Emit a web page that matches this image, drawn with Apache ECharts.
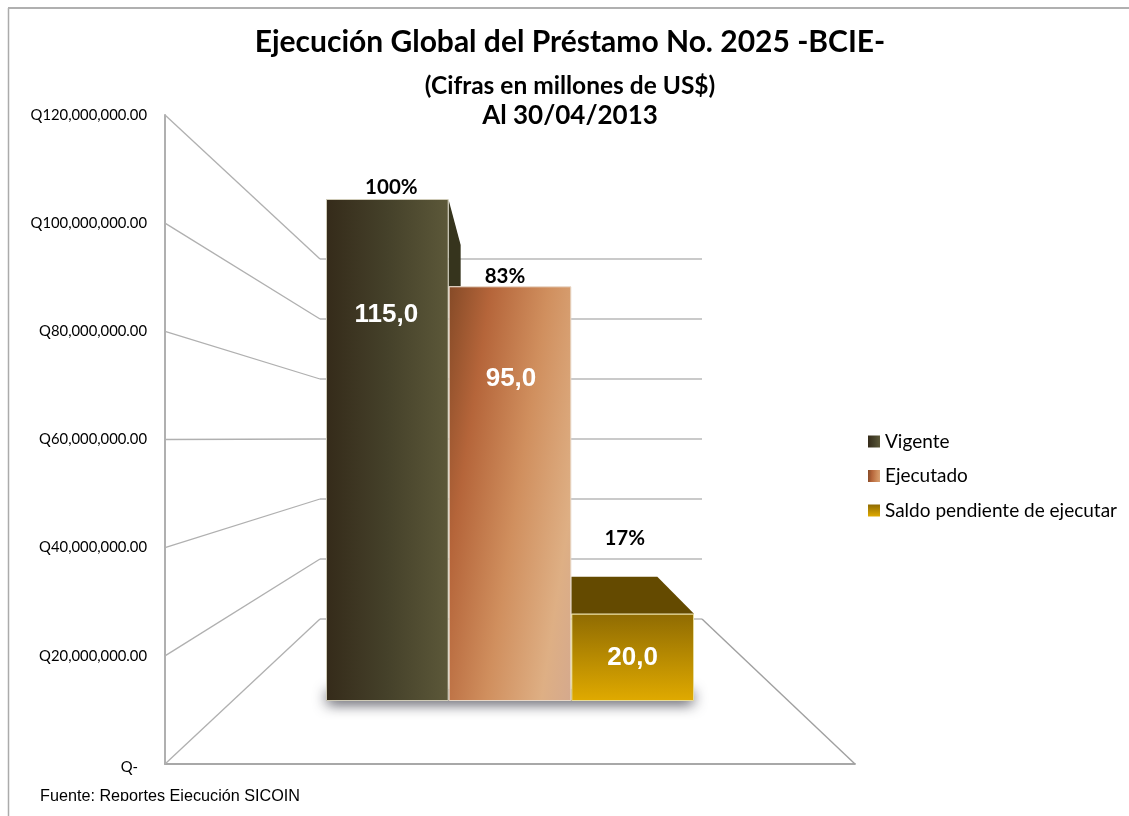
<!DOCTYPE html>
<html><head><meta charset="utf-8">
<style>html,body{margin:0;padding:0;background:#fff}#c{width:1129px;height:816px}</style>
<script src="https://cdn.jsdelivr.net/npm/echarts@6/dist/echarts.min.js"></script>
</head><body><div id="c"></div>
<script>
const categories = ['Vigente','Ejecutado','Saldo pendiente de ejecutar'];
const values = [115.0, 95.0, 20.0];
const percents = ['100%','83%','17%'];
const axisTicks = [0,20000000,40000000,60000000,80000000,100000000,120000000];
const axisLabels = ['Q-','Q20,000,000.00','Q40,000,000.00','Q60,000,000.00','Q80,000,000.00','Q100,000,000.00','Q120,000,000.00'];
const titleLines = ['Ejecución Global del Préstamo No. 2025 -BCIE-','(Cifras en millones de US$)','Al 30/04/2013'];
const sourceNote = 'Fuente: Reportes Ejecución SICOIN';

const CAL = 'Lato', ARI = '"Liberation Sans"', LINE = '#b0b0b0';
const chart = echarts.init(document.getElementById('c'));

const fills = [
  {type:'linear',x:0,y:0,x2:1,y2:0,colorStops:[{offset:0,color:'#352b1a'},{offset:.5,color:'#45412a'},{offset:1,color:'#5c5839'}]},
  {type:'linear',x:0,y:0,x2:2,y2:.09,colorStops:[{offset:0,color:'#854a27'},{offset:.17,color:'#b5653a'},{offset:.4,color:'#d08f5e'},{offset:.62,color:'#deaf84'},{offset:.76,color:'#d3a88f'}]},
  {type:'linear',x:0,y:0,x2:0,y2:1,colorStops:[{offset:0,color:'#8f6b02'},{offset:1,color:'#e0aa00'}]}
];
const labelOffsets = [[-1,-135],[1,-115],[0,0]];
const pctOffsets = [[4,1],[-5,3],[-8,-63]];
const borders = ['#cfcbb8','#e8d8c8','#e9dc98'];

const barSeries = categories.map((name,i)=>({
  name, type:'bar', stack:'s', xAxisIndex:1, yAxisIndex:1, barWidth:'100%', z:4,
  data: categories.map((_,j)=> j===i ? values[i] : null),
  itemStyle:{color:fills[i], borderColor:borders[i], borderWidth:1},
  label:{show:true, position:'inside', offset:labelOffsets[i], formatter:p=>p.value.toFixed(1).replace('.',','),
    color:'#fff', fontFamily:ARI, fontWeight:'bold', fontSize:26}
}));

chart.setOption({
  animation:false,
  backgroundColor:'#fff',
  title: titleLines.map((t,i)=>({
    text:t, left:565, top:[22,69,98][i], textAlign:'center',
    textStyle:{fontFamily:CAL, fontWeight:'bold', color:'#000', fontSize:[30,24.5,26][i]}
  })),
  legend:{orient:'vertical', left:863, top:427, itemWidth:12, itemHeight:12, itemGap:15.5, icon:'rect',
    data:categories, selectedMode:false, textStyle:{fontFamily:CAL, fontSize:19, color:'#000', padding:[0,0,0,0]}, itemStyle:{borderWidth:0}},
  grid:[
    {left:165, top:115, width:690, height:649},
    {left:326, top:199, width:368, height:502},
    {left:320, top:259, width:382, height:360}
  ],
  xAxis:[
    {gridIndex:0, type:'value', min:0, max:1, axisLine:{show:true,lineStyle:{color:'#a8a8a8',width:1.8}}, axisTick:{show:false}, axisLabel:{show:false}, splitLine:{show:false}},
    {gridIndex:1, type:'category', data:categories, show:false},
    {gridIndex:2, type:'value', min:0, max:1, show:false}
  ],
  yAxis:[
    {gridIndex:0, type:'value', min:0, max:120000000, interval:20000000,
     axisLine:{show:true,lineStyle:{color:'#a8a8a8',width:1.8}}, axisTick:{show:false}, splitLine:{show:false},
     axisLabel:{margin:18, fontFamily:CAL, fontSize:14.8, color:'#000',
       formatter:v=> v===axisTicks[0] ? '{q|'+axisLabels[0]+'}' : axisLabels[axisTicks.indexOf(v)],
       rich:{q:{fontFamily:CAL, fontSize:14.8, color:'#000', padding:[6,9,0,0]}}}},
    {gridIndex:1, type:'value', min:0, max:115, show:false},
    {gridIndex:2, type:'value', min:0, max:120000000, interval:20000000,
     axisLine:{show:false}, axisTick:{show:false}, axisLabel:{show:false},
     splitLine:{show:true,lineStyle:{color:'#b8b8b8',width:1.6}}}
  ],
  series:[
    {type:'custom', xAxisIndex:0, yAxisIndex:0, z:1, silent:true,
     data:axisTicks.map(v=>[0,v]), encode:{x:0,y:1},
     renderItem:(params,api)=>{
       const v=api.value(1), f=api.coord([0,v]);
       const b=chart.convertToPixel({xAxisIndex:2,yAxisIndex:2},[0,v]);
       return {type:'line',shape:{x1:f[0],y1:f[1],x2:b[0],y2:b[1]},style:{stroke:LINE,lineWidth:1.3}};
     }},
    {type:'custom', xAxisIndex:0, yAxisIndex:0, z:1, silent:true,
     data:[[1,0]], encode:{x:0,y:1},
     renderItem:(params,api)=>{
       const f=api.coord([1,0]);
       const b=chart.convertToPixel({xAxisIndex:2,yAxisIndex:2},[1,0]);
       return {type:'line',shape:{x1:f[0],y1:f[1],x2:b[0],y2:b[1]},style:{stroke:'#a0a0a0',lineWidth:1.4}};
     }},
    {type:'custom', xAxisIndex:1, yAxisIndex:1, z:2, silent:true,
     data:[[0,0]], encode:{x:0,y:1},
     renderItem:(params,api)=>{
       const c=api.coord([0,0]), w=api.size([1,0])[0];
       return {type:'rect',shape:{x:c[0]-w/2+1,y:c[1]-12,width:w*3-2,height:12},
         style:{fill:'#8a8a92',shadowColor:'rgba(60,60,72,.95)',shadowBlur:14,shadowOffsetY:3}};
     }},
    {type:'custom', xAxisIndex:1, yAxisIndex:1, z:3, silent:true,
     data:[[0,values[0],values[1]]], encode:{x:0,y:1},
     renderItem:(params,api)=>{
       const t=api.coord([0,api.value(1)]), b=api.coord([0,api.value(2)]), w=api.size([1,0])[0];
       const x=t[0]+w/2;
       return {type:'polygon',shape:{points:[[x,t[1]+1],[x+12,t[1]+46],[x+12,b[1]],[x,b[1]]]},style:{fill:'#36341d'}};
     }},
    {type:'custom', xAxisIndex:1, yAxisIndex:1, z:3, silent:true,
     data:[[2,values[2]]], encode:{x:0,y:1},
     renderItem:(params,api)=>{
       const t=api.coord([2,api.value(1)]), w=api.size([1,0])[0];
       const l=t[0]-w/2, r=t[0]+w/2;
       return {type:'polygon',shape:{points:[[l,t[1]],[l,t[1]-37],[l+86,t[1]-37],[r,t[1]]]},style:{fill:'#644a00'}};
     }},
    ...barSeries,
    {type:'scatter', xAxisIndex:1, yAxisIndex:1, z:6, symbolSize:0, silent:true, itemStyle:{opacity:1},
     data:values.map((v,i)=>({value:[i,v],
       label:{show:true,position:'top',distance:2,offset:pctOffsets[i],formatter:percents[i],
         fontFamily:CAL,fontWeight:'bold',fontSize:20.5,color:'#000',opacity:1}}))}
  ],
  graphic:[
    {type:'text', left:40, top:789, z:100, style:{text:sourceNote, fontFamily:ARI, fontSize:16.2, fill:'#000'}},
    {type:'rect', left:10, top:801, z:101, shape:{width:1119,height:15}, style:{fill:'#fff'}},
    {type:'line', z:102, shape:{x1:8.5,y1:8,x2:8.5,y2:816}, style:{stroke:'#ababab',lineWidth:1.5}},
    {type:'line', z:102, shape:{x1:8,y1:8,x2:1129,y2:8}, style:{stroke:'#b0b0b0',lineWidth:2}}
  ]
});
</script></body></html>
